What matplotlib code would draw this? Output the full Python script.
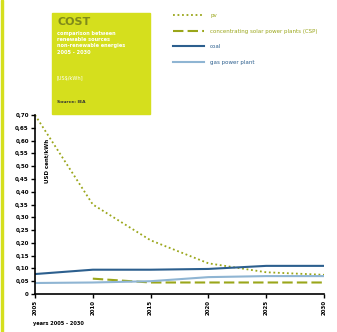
import numpy as np
import matplotlib
matplotlib.use("Agg")
import matplotlib.pyplot as plt

years = [2005, 2010, 2015, 2020, 2025, 2030]
pv = [0.70, 0.35, 0.21, 0.12, 0.085, 0.075]
csp = [np.nan, 0.06, 0.045, 0.045, 0.045, 0.045]
coal = [0.078, 0.095, 0.095, 0.098, 0.11, 0.11]
gas = [0.043, 0.045, 0.05, 0.066, 0.07, 0.07]
yticks = [0, 0.05, 0.10, 0.15, 0.20, 0.25, 0.30, 0.35, 0.40, 0.45, 0.50, 0.55, 0.60, 0.65, 0.70]
ytick_labels = ["0"] + ["%.2f" % v for v in yticks[1:]]
ytick_labels = [s.replace(".", ",") for s in ytick_labels]

lime = "#d5df1d"
olive = "#9aa61a"
dark_blue = "#2c5f8e"
light_blue = "#8fb5d3"

fig = plt.figure(figsize=(3.37, 3.32), dpi=100)
fig.patches.append(plt.Rectangle((0.004, 0.0), 0.006, 1.0, transform=fig.transFigure,
                                 color=lime, zorder=0))

# header box
fig.patches.append(plt.Rectangle((52 / 337, 1 - 114 / 332), 98 / 337, 101 / 332,
                                 transform=fig.transFigure, color=lime, zorder=0))
fig.text(57 / 337, 1 - 17 / 332, "COST", fontsize=8, fontweight="bold", color="#7f8a1a", va="top")
fig.text(57 / 337, 1 - 31 / 332, "comparison between\nrenewable sources\nnon-renewable energies\n2005 - 2030",
         fontsize=3.6, color="white", fontweight="bold", va="top", linespacing=1.3)
fig.text(57 / 337, 1 - 76 / 332, "[US$/kWh]", fontsize=3.6, color="white", va="top")
fig.text(57 / 337, 1 - 100 / 332, "Source: IEA", fontsize=3.2, color="#333333",
         fontweight="bold", va="top")

ax = fig.add_axes([35 / 337, 1 - 294 / 332, 289 / 337, 179 / 332])
ax.plot(years, pv, color=olive, linestyle=(0, (1, 1.5)), lw=1.3, label="pv")
ax.plot(years, csp, color=olive, linestyle=(0, (5, 2)), lw=1.5,
        label="concentrating solar power plants (CSP)")
ax.plot(years, coal, color=dark_blue, lw=1.5, label="coal")
ax.plot(years, gas, color=light_blue, lw=1.5, label="gas power plant")

ax.set_xlim(2005, 2030)
ax.set_ylim(0, 0.70)
ax.set_xticks(years)
ax.set_xticklabels([str(y) for y in years], rotation=90, fontsize=4, fontweight="bold")
ax.set_yticks(yticks)
ax.set_yticklabels(ytick_labels, fontsize=4, fontweight="bold")
for s in ["top", "right"]:
    ax.spines[s].set_visible(False)
ax.spines["left"].set_linewidth(1.2)
ax.spines["bottom"].set_linewidth(1.2)
ax.tick_params(length=3, width=1, pad=1.5)
ax.text(2005.8, 0.52, "USD cent/kWh", rotation=90, fontsize=4, fontweight="bold", va="center")
fig.text(33 / 337, 1 - 325 / 332, "years 2005 - 2030", fontsize=3.6, fontweight="bold")

leg = fig.legend(loc="upper left", bbox_to_anchor=(168 / 337, 1 - 8 / 332), frameon=False,
                 fontsize=4, handlelength=5.5, labelspacing=1.9, handletextpad=1.2)
for txt, c in zip(leg.get_texts(), [olive, olive, dark_blue, dark_blue]):
    txt.set_color(c)

fig.savefig("out.png", dpi=100)
